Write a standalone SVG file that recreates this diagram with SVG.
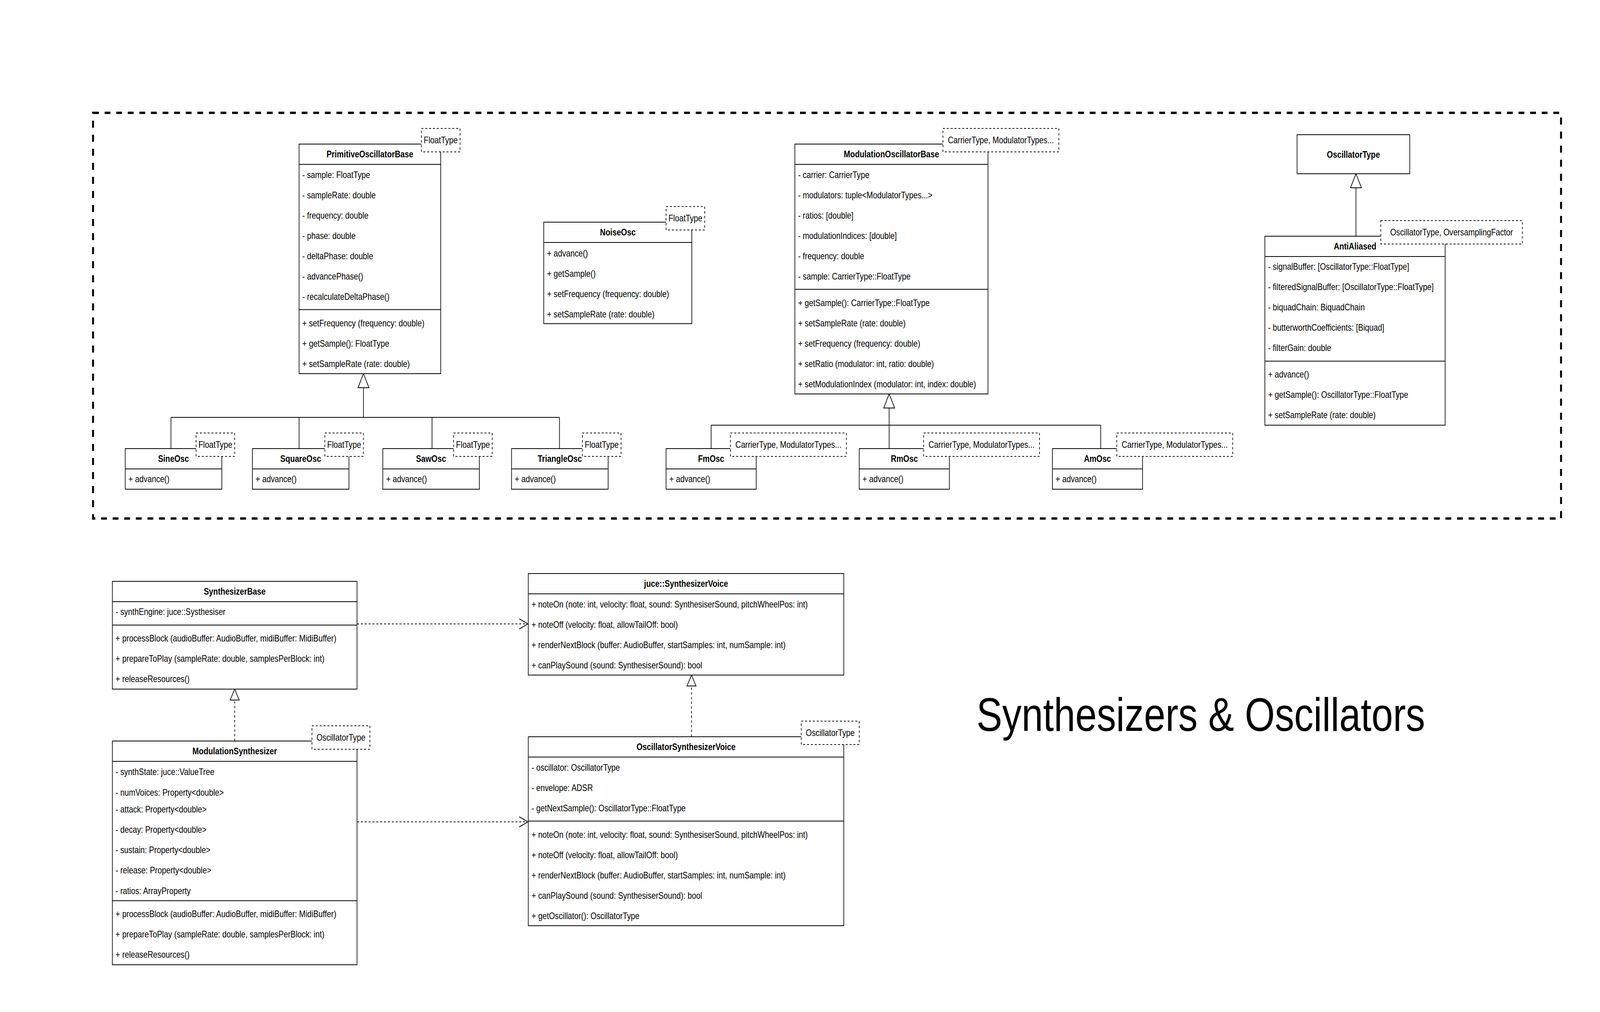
<svg xmlns="http://www.w3.org/2000/svg" width="4970" height="2592" viewBox="0 0 4970 2592" preserveAspectRatio="none" style="width:100%;height:100%">
<style>
.bg{fill:#fff}
.box{fill:#fff;stroke:#000;stroke-width:2}
.tpl{fill:#fff;stroke:#000;stroke-width:2;stroke-dasharray:6 6}
.ln{stroke:#000;stroke-width:2;fill:none}
.dl{stroke:#000;stroke-width:2;fill:none;stroke-dasharray:6 6}
.tri{fill:#fff;stroke:#000;stroke-width:2}
.frame{fill:none;stroke:#000;stroke-width:6;stroke-dasharray:18 18}
text{font-family:"Liberation Sans",Arial,Helvetica,sans-serif;font-size:24px;fill:#000}
.h{font-weight:bold;text-anchor:middle}
.c{text-anchor:middle}
.title{font-size:120px;text-anchor:middle}
</style>
<defs>
<marker id="open" markerWidth="30" markerHeight="30" refX="28" refY="14" orient="auto" markerUnits="userSpaceOnUse">
<path d="M1,1 L28,14 L1,27" fill="none" stroke="#000" stroke-width="2"/>
</marker>
</defs>
<rect class="bg" x="0" y="0" width="4970" height="2592"/>
<rect id="frame" class="frame" x="289" y="289" width="4560" height="1039"/>

<g id="connectors">
<path class="ln" d="M1129,993 V1069 M531,1069 H1738 M531,1069 V1149 M929,1069 V1149 M1342,1069 V1149 M1738,1069 V1149"/>
<polygon class="tri" points="1129,957 1112,993 1146,993"/>
<path class="ln" d="M2762,1045 V1149 M2209,1089 H3419 M2209,1089 V1149 M3419,1089 V1149"/>
<polygon class="tri" points="2762,1009 2745,1045 2779,1045"/>
<path class="ln" d="M4212,481 V605"/>
<polygon class="tri" points="4212,445 4195,481 4229,481"/>
<path class="dl" d="M729,1898 V1793"/>
<polygon class="tri" points="729,1765 715,1793 743,1793"/>
<path class="dl" d="M2148,1887 V1757"/>
<polygon class="tri" points="2148,1729 2134,1757 2162,1757"/>
<path class="dl" d="M1109,1598 H1640" marker-end="url(#open)"/>
<path class="dl" d="M1109,2105 H1640" marker-end="url(#open)"/>
</g>

<g id="PrimitiveOscillatorBase">
<rect class="box" x="929" y="369" width="440" height="588"/>
<path class="ln" d="M929,421 H1369 M929,793 H1369"/>
<text class="h" x="1149" y="403">PrimitiveOscillatorBase</text>
<text x="939" y="456">- sample: FloatType</text>
<text x="939" y="508">- sampleRate: double</text>
<text x="939" y="560">- frequency: double</text>
<text x="939" y="612">- phase: double</text>
<text x="939" y="664">- deltaPhase: double</text>
<text x="939" y="716">- advancePhase()</text>
<text x="939" y="768">- recalculateDeltaPhase()</text>
<text x="939" y="836">+ setFrequency (frequency: double)</text>
<text x="939" y="888">+ getSample(): FloatType</text>
<text x="939" y="940">+ setSampleRate (rate: double)</text>
<rect class="tpl" x="1309" y="329" width="120" height="60"/>
<text class="c" x="1369" y="367">FloatType</text>
</g>

<g id="NoiseOsc">
<rect class="box" x="1689" y="569" width="460" height="260"/>
<path class="ln" d="M1689,621 H2149"/>
<text class="h" x="1919" y="603">NoiseOsc</text>
<text x="1699" y="657">+ advance()</text>
<text x="1699" y="709">+ getSample()</text>
<text x="1699" y="761">+ setFrequency (frequency: double)</text>
<text x="1699" y="813">+ setSampleRate (rate: double)</text>
<rect class="tpl" x="2069" y="529" width="120" height="60"/>
<text class="c" x="2129" y="567">FloatType</text>
</g>

<g id="SineOsc">
<rect class="box" x="389" y="1149" width="300" height="104"/>
<path class="ln" d="M389,1201 H689"/>
<text class="h" x="539" y="1183">SineOsc</text>
<text x="399" y="1235">+ advance()</text>
<rect class="tpl" x="609" y="1109" width="120" height="60"/>
<text class="c" x="669" y="1147">FloatType</text>
</g>

<g id="SquareOsc">
<rect class="box" x="784" y="1149" width="300" height="104"/>
<path class="ln" d="M784,1201 H1084"/>
<text class="h" x="934" y="1183">SquareOsc</text>
<text x="794" y="1235">+ advance()</text>
<rect class="tpl" x="1009" y="1109" width="120" height="60"/>
<text class="c" x="1069" y="1147">FloatType</text>
</g>

<g id="SawOsc">
<rect class="box" x="1189" y="1149" width="300" height="104"/>
<path class="ln" d="M1189,1201 H1489"/>
<text class="h" x="1339" y="1183">SawOsc</text>
<text x="1199" y="1235">+ advance()</text>
<rect class="tpl" x="1409" y="1109" width="120" height="60"/>
<text class="c" x="1469" y="1147">FloatType</text>
</g>

<g id="TriangleOsc">
<rect class="box" x="1589" y="1149" width="300" height="104"/>
<path class="ln" d="M1589,1201 H1889"/>
<text class="h" x="1739" y="1183">TriangleOsc</text>
<text x="1599" y="1235">+ advance()</text>
<rect class="tpl" x="1809" y="1109" width="120" height="60"/>
<text class="c" x="1869" y="1147">FloatType</text>
</g>

<g id="ModulationOscillatorBase">
<rect class="box" x="2469" y="369" width="600" height="640"/>
<path class="ln" d="M2469,421 H3069 M2469,741 H3069"/>
<text class="h" x="2769" y="403">ModulationOscillatorBase</text>
<text x="2479" y="456">- carrier: CarrierType</text>
<text x="2479" y="508">- modulators: tuple&lt;ModulatorTypes...&gt;</text>
<text x="2479" y="560">- ratios: [double]</text>
<text x="2479" y="612">- modulationIndices: [double]</text>
<text x="2479" y="664">- frequency: double</text>
<text x="2479" y="716">- sample: CarrierType::FloatType</text>
<text x="2479" y="784">+ getSample(): CarrierType::FloatType</text>
<text x="2479" y="836">+ setSampleRate (rate: double)</text>
<text x="2479" y="888">+ setFrequency (frequency: double)</text>
<text x="2479" y="940">+ setRatio (modulator: int, ratio: double)</text>
<text x="2479" y="992">+ setModulationIndex (modulator: int, index: double)</text>
<rect class="tpl" x="2929" y="329" width="360" height="60"/>
<text class="c" x="3109" y="367">CarrierType, ModulatorTypes...</text>
</g>

<g id="FmOsc">
<rect class="box" x="2069" y="1149" width="280" height="104"/>
<path class="ln" d="M2069,1201 H2349"/>
<text class="h" x="2209" y="1183">FmOsc</text>
<text x="2079" y="1235">+ advance()</text>
<rect class="tpl" x="2269" y="1109" width="360" height="60"/>
<text class="c" x="2449" y="1147">CarrierType, ModulatorTypes...</text>
</g>

<g id="RmOsc">
<rect class="box" x="2669" y="1149" width="280" height="104"/>
<path class="ln" d="M2669,1201 H2949"/>
<text class="h" x="2809" y="1183">RmOsc</text>
<text x="2679" y="1235">+ advance()</text>
<rect class="tpl" x="2869" y="1109" width="360" height="60"/>
<text class="c" x="3049" y="1147">CarrierType, ModulatorTypes...</text>
</g>

<g id="AmOsc">
<rect class="box" x="3269" y="1149" width="280" height="104"/>
<path class="ln" d="M3269,1201 H3549"/>
<text class="h" x="3409" y="1183">AmOsc</text>
<text x="3279" y="1235">+ advance()</text>
<rect class="tpl" x="3469" y="1109" width="360" height="60"/>
<text class="c" x="3649" y="1147">CarrierType, ModulatorTypes...</text>
</g>

<g id="OscillatorType">
<rect class="box" x="4029" y="345" width="350" height="100"/>
<text class="h" x="4204" y="404">OscillatorType</text>
</g>

<g id="AntiAliased">
<rect class="box" x="3929" y="605" width="560" height="484"/>
<path class="ln" d="M3929,657 H4489 M3929,925 H4489"/>
<text class="h" x="4209" y="639">AntiAliased</text>
<text x="3939" y="691">- signalBuffer: [OscillatorType::FloatType]</text>
<text x="3939" y="743">- filteredSignalBuffer: [OscillatorType::FloatType]</text>
<text x="3939" y="795">- biquadChain: BiquadChain</text>
<text x="3939" y="847">- butterworthCoefficients: [Biquad]</text>
<text x="3939" y="899">- filterGain: double</text>
<text x="3939" y="967">+ advance()</text>
<text x="3939" y="1019">+ getSample(): OscillatorType::FloatType</text>
<text x="3939" y="1071">+ setSampleRate (rate: double)</text>
<rect class="tpl" x="4289" y="565" width="440" height="60"/>
<text class="c" x="4509" y="603">OscillatorType, OversamplingFactor</text>
</g>

<g id="SynthesizerBase">
<rect class="box" x="349" y="1489" width="760" height="276"/>
<path class="ln" d="M349,1541 H1109 M349,1601 H1109"/>
<text class="h" x="729" y="1523">SynthesizerBase</text>
<text x="359" y="1575">- synthEngine: juce::Systhesiser</text>
<text x="359" y="1643">+ processBlock (audioBuffer: AudioBuffer, midiBuffer: MidiBuffer)</text>
<text x="359" y="1695">+ prepareToPlay (sampleRate: double, samplesPerBlock: int)</text>
<text x="359" y="1747">+ releaseResources()</text>
</g>

<g id="ModulationSynthesizer">
<rect class="box" x="349" y="1898" width="760" height="573"/>
<path class="ln" d="M349,1950 H1109 M349,2307 H1109"/>
<text class="h" x="729" y="1932">ModulationSynthesizer</text>
<text x="359" y="1985">- synthState: juce::ValueTree</text>
<text x="359" y="2038">- numVoices: Property&lt;double&gt;</text>
<text x="359" y="2081">- attack: Property&lt;double&gt;</text>
<text x="359" y="2133">- decay: Property&lt;double&gt;</text>
<text x="359" y="2185">- sustain: Property&lt;double&gt;</text>
<text x="359" y="2237">- release: Property&lt;double&gt;</text>
<text x="359" y="2290">- ratios: ArrayProperty</text>
<text x="359" y="2349">+ processBlock (audioBuffer: AudioBuffer, midiBuffer: MidiBuffer)</text>
<text x="359" y="2401">+ prepareToPlay (sampleRate: double, samplesPerBlock: int)</text>
<text x="359" y="2453">+ releaseResources()</text>
<rect class="tpl" x="969" y="1859" width="180" height="60"/>
<text class="c" x="1059" y="1897">OscillatorType</text>
</g>

<g id="juceSynthesizerVoice">
<rect class="box" x="1641" y="1469" width="980" height="260"/>
<path class="ln" d="M1641,1521 H2621"/>
<text class="h" x="2131" y="1503">juce::SynthesizerVoice</text>
<text x="1651" y="1556">+ noteOn (note: int, velocity: float, sound: SynthesiserSound, pitchWheelPos: int)</text>
<text x="1651" y="1608">+ noteOff (velocity: float, allowTailOff: bool)</text>
<text x="1651" y="1660">+ renderNextBlock (buffer: AudioBuffer, startSamples: int, numSample: int)</text>
<text x="1651" y="1712">+ canPlaySound (sound: SynthesiserSound): bool</text>
</g>

<g id="OscillatorSynthesizerVoice">
<rect class="box" x="1641" y="1887" width="980" height="484"/>
<path class="ln" d="M1641,1939 H2621 M1641,2103 H2621"/>
<text class="h" x="2131" y="1921">OscillatorSynthesizerVoice</text>
<text x="1651" y="1974">- oscillator: OscillatorType</text>
<text x="1651" y="2026">- envelope: ADSR</text>
<text x="1651" y="2078">- getNextSample(): OscillatorType::FloatType</text>
<text x="1651" y="2146">+ noteOn (note: int, velocity: float, sound: SynthesiserSound, pitchWheelPos: int)</text>
<text x="1651" y="2198">+ noteOff (velocity: float, allowTailOff: bool)</text>
<text x="1651" y="2250">+ renderNextBlock (buffer: AudioBuffer, startSamples: int, numSample: int)</text>
<text x="1651" y="2302">+ canPlaySound (sound: SynthesiserSound): bool</text>
<text x="1651" y="2354">+ getOscillator(): OscillatorType</text>
<rect class="tpl" x="2489" y="1847" width="180" height="60"/>
<text class="c" x="2579" y="1885">OscillatorType</text>
</g>

<g id="title">
<text class="title" x="3730" y="1872">Synthesizers &amp; Oscillators</text>
</g>
</svg>
